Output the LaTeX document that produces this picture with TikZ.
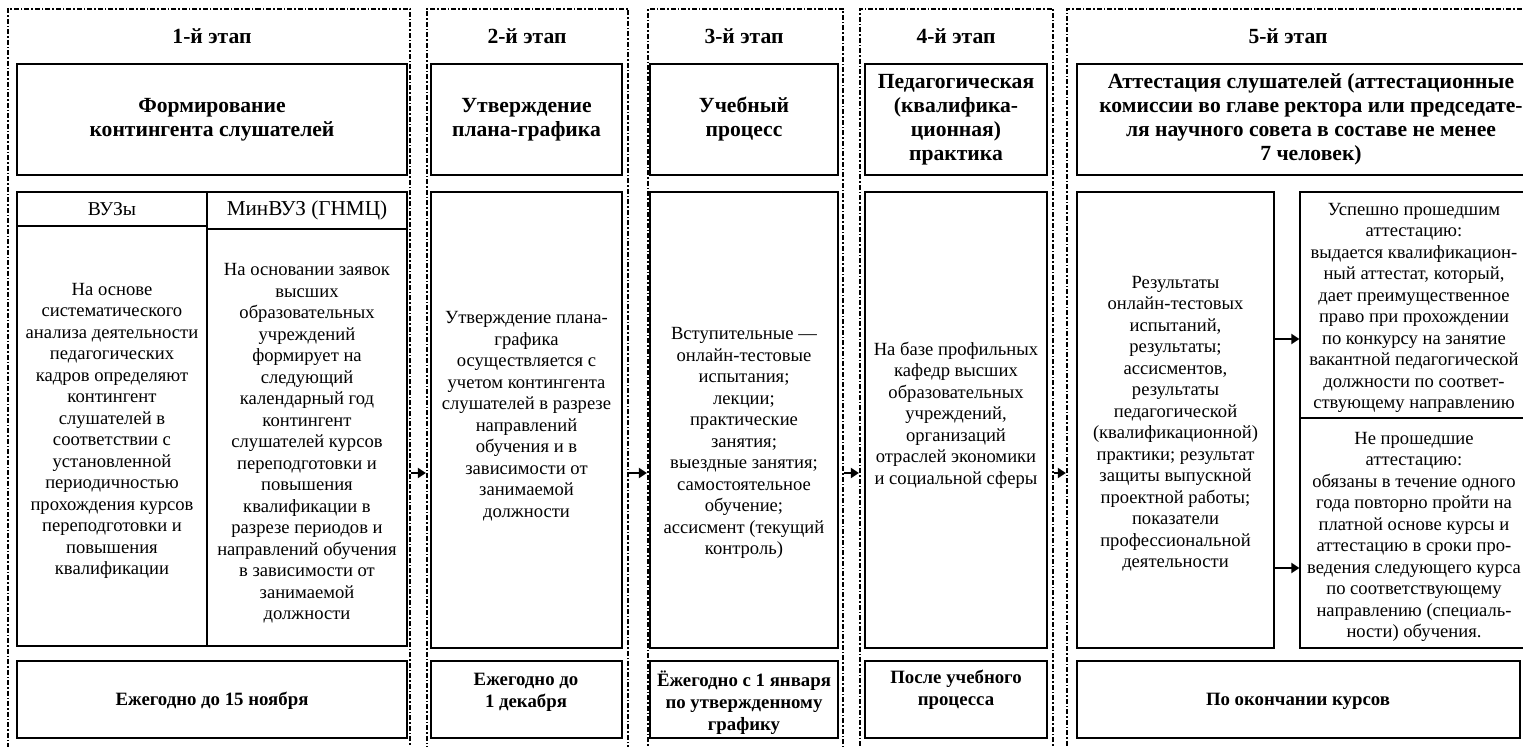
\documentclass[tikz,border=0pt]{standalone}
\usepackage{fontspec}
\setmainfont{Liberation Serif}
\usetikzlibrary{fit,arrows.meta}
\tikzset{
 frame/.style={draw, line width=1.1pt, dash pattern=on 2.5pt off 1pt on 0.75pt off 1pt, inner sep=0pt},
 box/.style={draw, line width=0.65pt, inner sep=0pt},
 txt/.style={align=center, font=\fontsize{9.3}{10.75}\selectfont, inner sep=0pt},
 btxt/.style={align=center, font=\fontsize{10.8}{12}\selectfont\bfseries, inner sep=0pt},
 dtxt/.style={align=center, font=\fontsize{9.4}{11}\selectfont\bfseries, inner sep=0pt},
 arr/.style={line width=1.4pt, -{Triangle[length=4pt,width=5pt]}},
}
\newcommand\mybx[5]{\node[box, fit={(#2,#3)(#4,#5)}] (#1) {};}
\begin{document}
\begin{tikzpicture}[x=0.5pt,y=-0.5pt]
\useasboundingbox (0,0) rectangle (1523,747);
\begin{scope}
\clip (0,0) rectangle (1523,747);
% stage frames
\node[frame, fit={(8,9)(410,770)}] (f1) {};
\node[frame, fit={(427,9)(628,770)}] (f2) {};
\node[frame, fit={(648,9)(843,770)}] (f3) {};
\node[frame, fit={(860,9)(1053,770)}] (f4) {};
\node[frame, fit={(1067,9)(1570,770)}] (f5) {};
% headers
\node[btxt] (h1) at (212,36) {1-й этап};
\node[btxt] (h2) at (527,36) {2-й этап};
\node[btxt] (h3) at (744,36) {3-й этап};
\node[btxt] (h4) at (956,36) {4-й этап};
\node[btxt] (h5) at (1288,36) {5-й этап};
% title boxes
\mybx{t1}{17}{64}{407}{175}
\mybx{t2}{431}{64}{622}{175}
\mybx{t3}{650}{64}{838}{175}
\mybx{t4}{865}{64}{1047}{175}
\mybx{t5}{1077}{64}{1545}{175}
\node[btxt] (tt1) at (t1.center) {Формирование\\контингента слушателей};
\node[btxt] (tt2) at (t2.center) {Утверждение\\плана-графика};
\node[btxt] (tt3) at (t3.center) {Учебный\\процесс};
\node[btxt] (tt4) at (t4.center) {Педагогическая\\(квалифика-\\ционная)\\практика};
\node[btxt] (tt5) at (1311,119) {Аттестация слушателей (аттестационные\\комиссии во главе ректора или председате-\\ля научного совета в составе не менее\\7 человек)};
% stage 1 sub-boxes
\mybx{v1}{17}{192}{207}{226}
\mybx{v2}{207}{192}{407}{229}
\node[txt, font=\fontsize{9.8}{11}\selectfont] (vt1) at (v1.center) {ВУЗы};
\node[txt, font=\fontsize{10.6}{12}\selectfont] (vt2) at (v2.center) {МинВУЗ (ГНМЦ)};
% content boxes
\mybx{c1a}{17}{226}{207}{646}
\mybx{c1b}{207}{229}{407}{646}
\mybx{c2}{431}{192}{622}{648}
\mybx{c3}{650}{192}{838}{648}
\mybx{c4}{865}{192}{1047}{648}
\mybx{c5l}{1077}{192}{1274}{648}
\mybx{c5t}{1300}{192}{1545}{418}
\mybx{c5b}{1300}{418}{1545}{648}
\node[txt] (ct1a) at (112,431) {На основе\\систематического\\анализа деятельности\\педагогических\\кадров определяют\\контингент\\слушателей в\\соответствии с\\установленной\\периодичностью\\прохождения курсов\\переподготовки и\\повышения\\квалификации};
\node[txt] (ct1b) at (307,443.5) {На основании заявок\\высших\\образовательных\\учреждений\\формирует на\\следующий\\календарный год\\контингент\\слушателей курсов\\переподготовки и\\повышения\\квалификации в\\разрезе периодов и\\направлений обучения\\в зависимости от\\занимаемой\\должности};
\node[txt] (ct2) at (526.5,416) {Утверждение плана-\\графика\\осуществляется с\\учетом контингента\\слушателей в разрезе\\направлений\\обучения и в\\зависимости от\\занимаемой\\должности};
\node[txt] (ct3) at (744,443) {Вступительные —\\онлайн-тестовые\\испытания;\\лекции;\\практические\\занятия;\\выездные занятия;\\самостоятельное\\обучение;\\ассисмент (текущий\\контроль)};
\node[txt] (ct4) at (956,415) {На базе профильных\\кафедр высших\\образовательных\\учреждений,\\организаций\\отраслей экономики\\и социальной сферы};
\node[txt] (ct5l) at (1175.5,423.5) {Результаты\\онлайн-тестовых\\испытаний,\\результаты;\\ассисментов,\\результаты\\педагогической\\(квалификационной)\\практики; результат\\защиты выпускной\\проектной работы;\\показатели\\профессиональной\\деятельности};
\node[txt] (ct5t) at (1414,308) {Успешно прошедшим\\аттестацию:\\выдается квалификацион-\\ный аттестат, который,\\дает преимущественное\\право при прохождении\\по конкурсу на занятие\\вакантной педагогической\\должности по соответ-\\ствующему направлению};
\node[txt] (ct5b) at (1414,537) {Не прошедшие\\аттестацию:\\обязаны в течение одного\\года повторно пройти на\\платной основе курсы и\\аттестацию в сроки про-\\ведения следующего курса\\по соответствующему\\направлению (специаль-\\ности) обучения.};
% date boxes
\mybx{d1}{17}{661}{407}{738}
\mybx{d2}{431}{661}{622}{738}
\mybx{d3}{650}{661}{838}{738}
\mybx{d4}{865}{661}{1047}{738}
\mybx{d5}{1077}{661}{1520}{738}
\node[dtxt] (dt1) at (212,701) {Ежегодно до 15 ноября};
\node[dtxt] (dt2) at (526,692) {Ежегодно до\\1 декабря};
\node[dtxt] (dt3) at (744,703) {Ёжегодно с 1 января\\по утвержденному\\графику};
\node[dtxt] (dt4) at (956,690) {После учебного\\процесса};
\node[dtxt] (dt5) at (1298,701) {По окончании курсов};
% arrows between stages
\coordinate (ya) at (0,473);
\draw[arr] (f1.east |- ya) -- (f2.west |- ya);
\draw[arr] (f2.east |- ya) -- (f3.west |- ya);
\draw[arr] (f3.east |- ya) -- (f4.west |- ya);
\draw[arr] (f4.east |- ya) -- (f5.west |- ya);
% arrows in stage 5
\coordinate (yc) at (0,339);
\coordinate (yd) at (0,568);
\draw[arr] (c5l.east |- yc) -- (c5t.west |- yc);
\draw[arr] (c5l.east |- yd) -- (c5b.west |- yd);
\end{scope}
\end{tikzpicture}
\end{document}
